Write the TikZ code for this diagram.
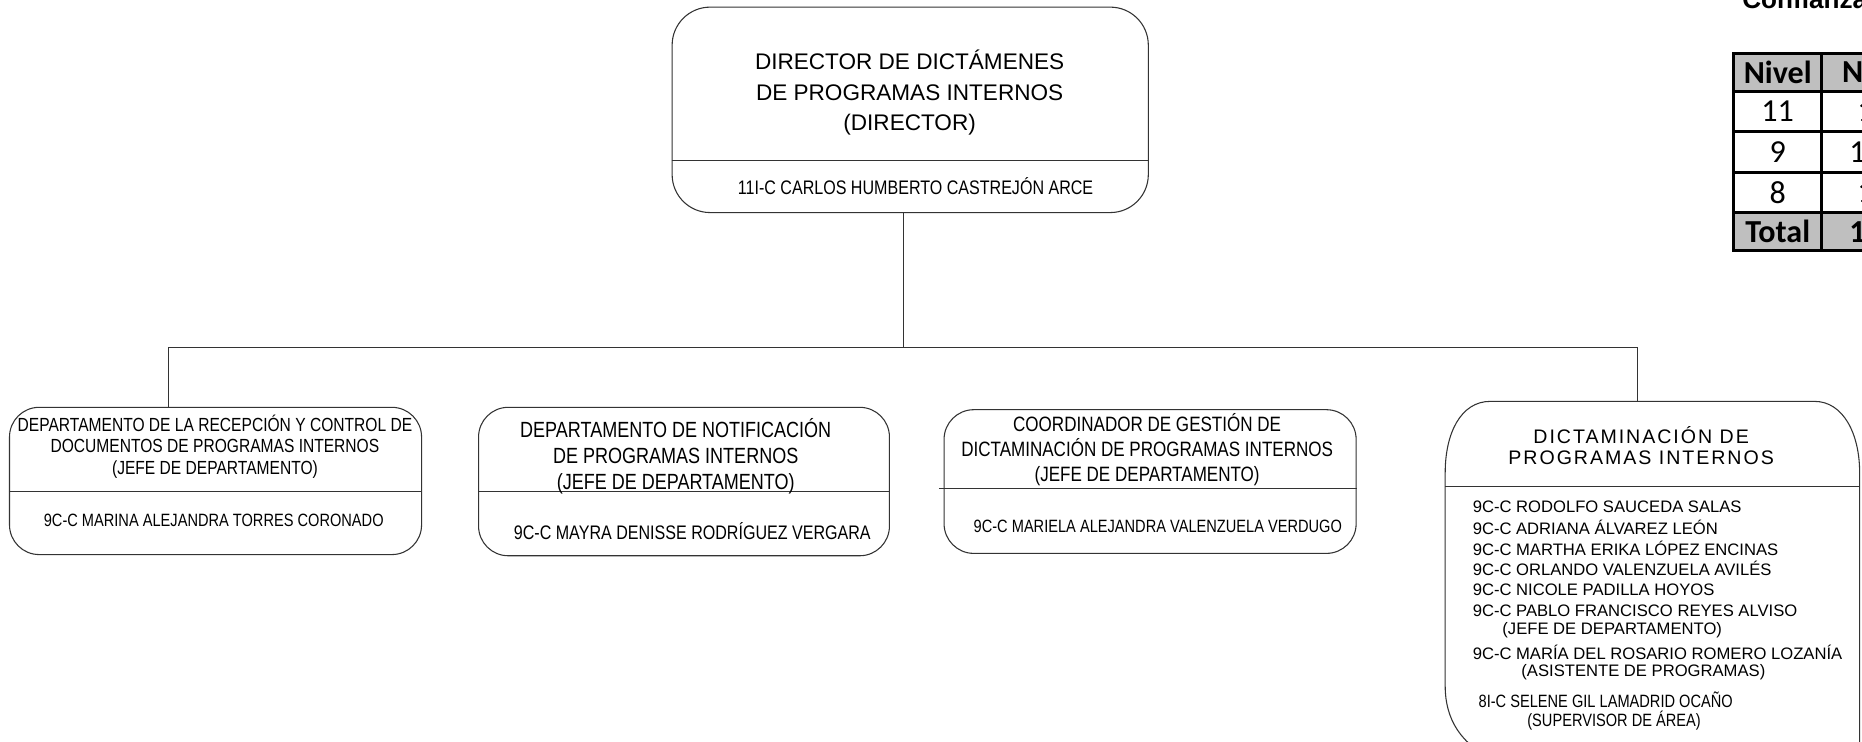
\documentclass[tikz,border=0pt]{standalone}
\usepackage{fontspec}
\setmainfont{Liberation Sans}
\newfontfamily\narrowfont[FakeStretch=0.82]{Liberation Sans}
\newfontfamily\spacedfont[LetterSpace=10]{Liberation Sans}
\newfontfamily\calfont{Carlito}
\definecolor{tabgray}{HTML}{BFBFBF}
\definecolor{linegray}{HTML}{333333}
\begin{document}
\begin{tikzpicture}[x=1pt,y=-1pt,
  box/.style={draw=linegray, line width=0.9pt, rounded corners=25pt, inner sep=0pt},
  conn/.style={draw=linegray, line width=0.8pt},
  divline/.style={draw=linegray, line width=0.8pt},
  lbl/.style={inner sep=0pt, align=center},
  item/.style={inner sep=0pt, anchor=west, font=\fontsize{14}{16}\selectfont},
  nitem/.style={inner sep=0pt, anchor=west, font=\narrowfont\fontsize{15}{17}\selectfont},
  cell/.style={draw=black, line width=2.4pt, inner sep=0pt, font=\calfont\fontsize{27}{30}\selectfont},
  bcell/.style={cell, fill=tabgray, font=\calfont\bfseries\fontsize{27}{30}\selectfont},
]
\useasboundingbox (0,0) rectangle (1568,624);
\clip (0,0) rectangle (1568,624);

% ---------- title fragment and table (top right) ----------
\node[inner sep=0pt, anchor=base west, font=\bfseries\fontsize{22}{24}\selectfont] (conf) at (1467,7) {Confianza};

\node[bcell, minimum width=74pt, minimum height=32pt] (h1) at (1497,61) {Nivel};
\node[bcell, minimum width=74pt, minimum height=32pt] (h2) at (1571,61) {No.};
\node[cell, minimum width=74pt, minimum height=34pt] (r1a) at (1497,94) {11};
\node[cell, minimum width=74pt, minimum height=34pt] (r1b) at (1571,94) {1};
\node[cell, minimum width=74pt, minimum height=34pt] (r2a) at (1497,128) {9};
\node[cell, minimum width=74pt, minimum height=34pt] (r2b) at (1571,128) {10};
\node[cell, minimum width=74pt, minimum height=34pt] (r3a) at (1497,162) {8};
\node[cell, minimum width=74pt, minimum height=34pt] (r3b) at (1571,162) {1};
\node[bcell, minimum width=74pt, minimum height=32pt] (ta) at (1497,195) {Total};
\node[bcell, minimum width=74pt, minimum height=32pt] (tb) at (1571,195) {12};

% ---------- director ----------
\node[box, rounded corners=32pt, minimum width=401pt, minimum height=173pt] (d0) at (766.5,92.5) {};
\draw[divline] (d0.west |- 0,135) -- (d0.east |- 0,135);
\node[lbl, font=\fontsize{19}{25.5}\selectfont] (t0) at (766,78)
  {DIRECTOR DE DICTÁMENES\\DE PROGRAMAS INTERNOS\\(DIRECTOR)};
\node[lbl, font=\narrowfont\fontsize{16.5}{18}\selectfont] (n0) at (771,157)
  {11I-C CARLOS HUMBERTO CASTREJÓN ARCE};

% ---------- box 1 ----------
\node[box, minimum width=347pt, minimum height=124pt] (b1) at (181.5,405) {};
\draw[divline] (b1.west |- 0,414) -- (b1.east |- 0,414);
\node[lbl, font=\narrowfont\fontsize{16}{18}\selectfont] (t1) at (181,376)
  {DEPARTAMENTO DE LA RECEPCIÓN Y CONTROL DE\\DOCUMENTOS DE PROGRAMAS INTERNOS\\(JEFE DE DEPARTAMENTO)};
\node[lbl, font=\narrowfont\fontsize{15}{17}\selectfont] (n1) at (180,438)
  {9C-C MARINA ALEJANDRA TORRES CORONADO};

% ---------- box 2 ----------
\node[box, minimum width=346pt, minimum height=125pt] (b2) at (576,405.5) {};
\draw[divline] (b2.west |- 0,414) -- (b2.east |- 0,414);
\node[lbl, font=\narrowfont\fontsize{18.5}{22}\selectfont] (t2) at (569,384)
  {DEPARTAMENTO DE NOTIFICACIÓN\\DE PROGRAMAS INTERNOS\\(JEFE DE DEPARTAMENTO)};
\node[lbl, font=\narrowfont\fontsize{16.5}{18}\selectfont] (n2) at (583,447)
  {9C-C MAYRA DENISSE RODRÍGUEZ VERGARA};

% ---------- box 3 ----------
\node[box, minimum width=347pt, minimum height=121pt] (b3) at (968.5,405.5) {};
\draw[divline] ([xshift=-4pt]b3.west |- 0,411) -- (b3.east |- 0,411);
\node[lbl, font=\narrowfont\fontsize{17.5}{21}\selectfont] (t3) at (966,379)
  {COORDINADOR DE GESTIÓN DE\\DICTAMINACIÓN DE PROGRAMAS INTERNOS\\(JEFE DE DEPARTAMENTO)};
\node[lbl, font=\narrowfont\fontsize{15}{17}\selectfont] (n3) at (975,443)
  {9C-C MARIELA ALEJANDRA VALENZUELA VERDUGO};

% ---------- box 4 ----------
\draw[draw=linegray, line width=0.9pt]
  (1255,338) -- (1528,338) .. controls (1552,338) and (1566,365) .. (1566,398)
  -- (1566,640) -- (1260,640) .. controls (1230,628) and (1217,605) .. (1217,578)
  -- (1217,398) .. controls (1217,365) and (1230,338) .. (1255,338) -- cycle;
\coordinate (b4top) at (1379,338);
\draw[divline] (1217,410) -- (1566,410);
\node[lbl, font=\spacedfont\fontsize{16.5}{17.5}\selectfont] (t4) at (1382,375)
  {DICTAMINACIÓN DE\\PROGRAMAS INTERNOS};
\node[item] (l1) at (1240,427) {9C-C RODOLFO SAUCEDA SALAS};
\node[item] (l2) at (1240,444) {9C-C ADRIANA ÁLVAREZ LEÓN};
\node[item] (l3) at (1240,462) {9C-C MARTHA ERIKA LÓPEZ ENCINAS};
\node[item] (l4) at (1240,479) {9C-C ORLANDO VALENZUELA AVILÉS};
\node[item] (l5) at (1240,497) {9C-C NICOLE PADILLA HOYOS};
\node[item] (l6) at (1240,514) {9C-C PABLO FRANCISCO REYES ALVISO};
\node[item] (l7) at (1265,531) {(JEFE DE DEPARTAMENTO)};
\node[item] (l8) at (1240,549) {9C-C MARÍA DEL ROSARIO ROMERO LOZANÍA};
\node[item] (l9) at (1281,566) {(ASISTENTE DE PROGRAMAS)};
\node[nitem] (l10) at (1245,589) {8I-C SELENE GIL LAMADRID OCAÑO};
\node[nitem] (l11) at (1286,607) {(SUPERVISOR DE ÁREA)};

% ---------- connectors ----------
\coordinate (busL) at (142,293);
\coordinate (busR) at (1379,293);
\draw[conn] ([xshift=-6pt]d0.south) -- ([xshift=-6pt]d0.south |- busL);
\draw[conn] (b1.north -| busL) -- (busL) -- (busR) -- (b4top);
\end{tikzpicture}
\end{document}
